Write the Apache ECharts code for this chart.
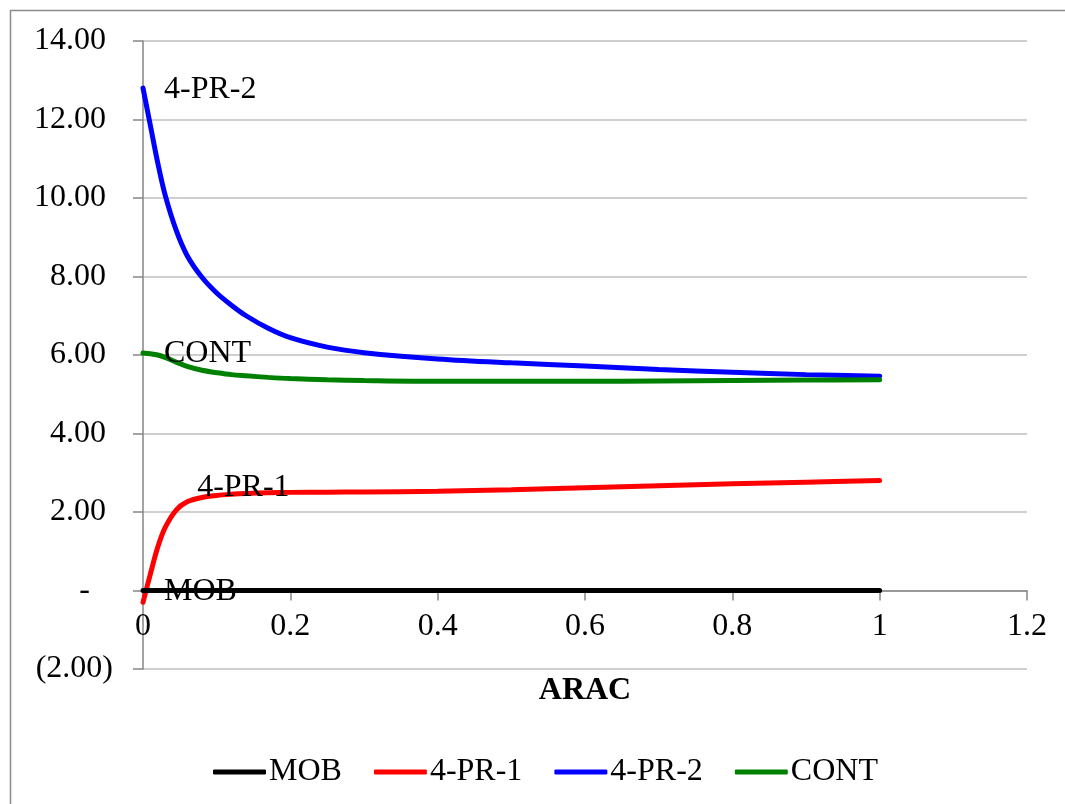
<!DOCTYPE html>
<html>
<head>
<meta charset="utf-8">
<script src="https://cdn.jsdelivr.net/npm/echarts@6/dist/echarts.min.js"></script>
<style>
html,body{margin:0;padding:0;background:#fff;}
#chart{width:1065px;height:804px;}
</style>
</head>
<body>
<div id="chart"></div>
<script>
const xValues = [0, 0.01, 0.02, 0.03, 0.045, 0.06, 0.08, 0.1, 0.12, 0.14, 0.17, 0.2, 0.25, 0.3, 0.4, 0.5, 0.6, 0.7, 0.8, 0.9, 1.0];
const mob  = [0, 0, 0, 0, 0, 0, 0, 0, 0, 0, 0, 0, 0, 0, 0, 0, 0, 0, 0, 0, 0];
const pr1  = [-0.3, 0.42, 1.1, 1.6, 2.05, 2.26, 2.37, 2.42, 2.45, 2.47, 2.49, 2.5, 2.505, 2.51, 2.53, 2.57, 2.62, 2.67, 2.72, 2.76, 2.8];
const pr2  = [12.8, 11.85, 10.9, 10.08, 9.18, 8.53, 7.98, 7.58, 7.27, 7.0, 6.68, 6.44, 6.2, 6.06, 5.9, 5.8, 5.72, 5.63, 5.56, 5.5, 5.46];
const cont = [6.05, 6.03, 6.0, 5.94, 5.82, 5.71, 5.61, 5.55, 5.5, 5.47, 5.43, 5.4, 5.37, 5.35, 5.33, 5.33, 5.33, 5.34, 5.35, 5.36, 5.37];
const seriesNames = ['MOB', '4-PR-1', '4-PR-2', 'CONT'];
const seriesColors = ['#000000', '#ff0000', '#0000ff', '#008000'];
const labelIndex = [0, 4, 0, 0];
const yMin = -2, yMax = 14, yStep = 2;
const xMin = 0, xMax = 1.2, xStep = 0.2;

const FONT = '"Liberation Serif", "Times New Roman", serif';
const FS = 32;
const W = 1065, H = 804, GL = 143, GR = 38, GT = 41, GB = 135;
const gridH = H - GT - GB;
const zeroOffset = -gridH * (0 - yMin) / (yMax - yMin);

function build(vals, li, name) {
  return vals.map((v, i) => {
    const item = { value: [xValues[i], v] };
    if (i === li) {
      item.label = {
        show: true,
        formatter: name,
        position: 'right',
        distance: 21,
        offset: name === '4-PR-1' ? [0, -22] : [0, 1],
        color: '#000',
        fontFamily: FONT,
        fontSize: FS
      };
    }
    return item;
  });
}

const allData = [mob, pr1, pr2, cont];

const chart = echarts.init(document.getElementById('chart'), null, { renderer: 'canvas' });
chart.setOption({
  backgroundColor: '#fff',
  animation: false,
  graphic: [{
    type: 'rect',
    shape: { x: 10.5, y: 10.5, width: 1200, height: 1000 },
    style: { fill: 'none', stroke: '#8c8c8c', lineWidth: 1.5 },
    silent: true, z: -10
  }],
  grid: { left: GL, right: GR, top: GT, bottom: GB, containLabel: false },
  legend: {
    bottom: 11,
    left: 208,
    itemWidth: 53,
    itemHeight: 5,
    itemGap: 32,
    icon: 'roundRect',
    textStyle: { fontFamily: FONT, fontSize: FS, color: '#000', padding: [0, 0, 0, -2] },
    data: seriesNames
  },
  xAxis: {
    type: 'value',
    min: xMin, max: xMax, interval: xStep,
    offset: zeroOffset,
    name: 'ARAC',
    nameLocation: 'middle',
    nameGap: 84,
    nameTextStyle: { fontFamily: FONT, fontSize: FS, fontWeight: 'bold', color: '#000' },
    axisLine: { onZero: false, lineStyle: { color: '#868686', width: 1.5 } },
    axisTick: { show: true, length: 10, lineStyle: { color: '#868686', width: 1.5 } },
    axisLabel: {
      margin: 20, color: '#000', fontFamily: FONT, fontSize: FS,
      formatter: v => String(Math.round(v * 10) / 10)
    },
    splitLine: { show: false }
  },
  yAxis: {
    type: 'value',
    min: yMin, max: yMax, interval: yStep,
    axisLine: { show: true, onZero: false, lineStyle: { color: '#868686', width: 1.5 } },
    axisTick: { show: true, length: 10, lineStyle: { color: '#868686', width: 1.5 } },
    axisLabel: {
      margin: 30, color: '#000', fontFamily: FONT, fontSize: FS,
      formatter: v => {
        if (Math.abs(v) < 1e-9) return '{z|-}';
        if (v < 0) return '{n|(' + Math.abs(v).toFixed(2) + ')}';
        return '{p|' + v.toFixed(2) + '}';
      },
      rich: {
        p: { fontFamily: FONT, fontSize: FS, color: '#000', padding: [0, 7, 0, 0] },
        n: { fontFamily: FONT, fontSize: FS, color: '#000' },
        z: { fontFamily: FONT, fontSize: FS, color: '#000', padding: [0, 23, 0, 0] }
      }
    },
    splitLine: { show: true, lineStyle: { color: '#bfbfbf', width: 1.5 } }
  },
  series: seriesNames.map((name, k) => ({
    name: name,
    type: 'line',
    smooth: 0.35,
    showSymbol: true,
    showAllSymbol: true,
    symbol: 'circle',
    symbolSize: 0,
    clip: false,
    color: seriesColors[k],
    lineStyle: { width: 5, color: seriesColors[k], cap: 'round' },
    z: k === 0 ? 5 : 3,
    data: build(allData[k], labelIndex[k], name)
  }))
});
</script>
</body>
</html>
